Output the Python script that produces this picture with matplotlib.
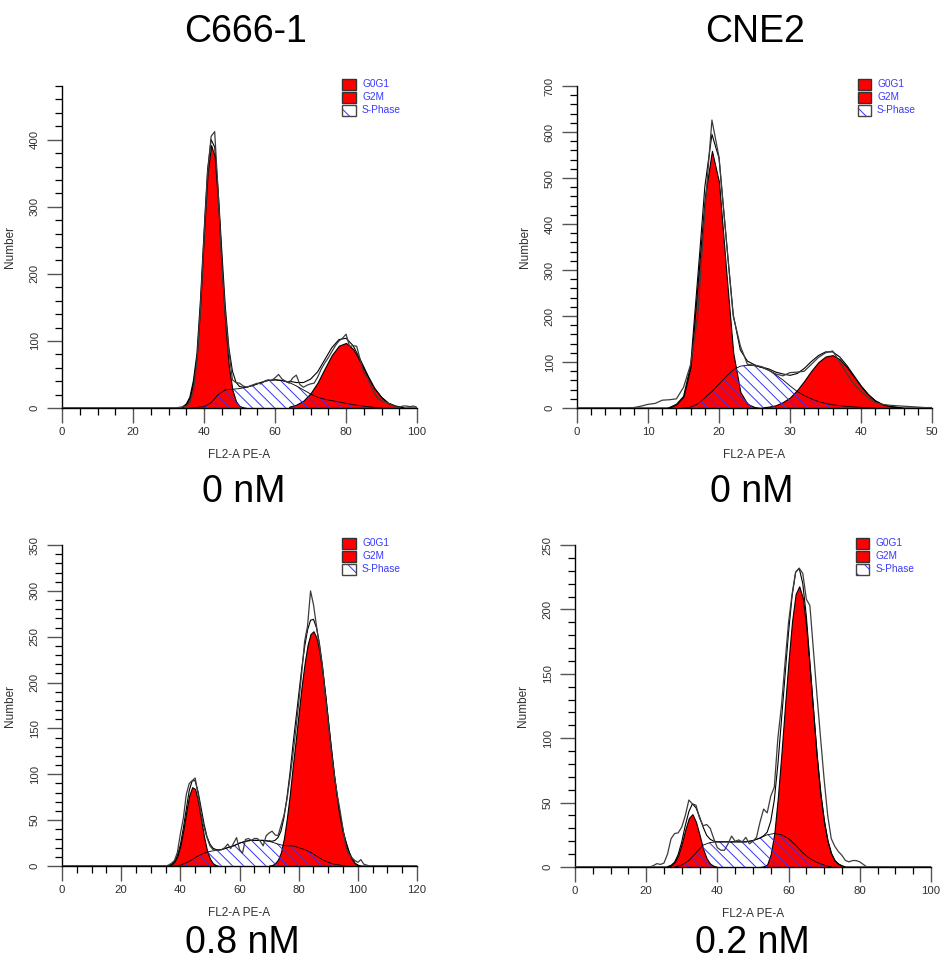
import numpy as np
import matplotlib.pyplot as plt
from matplotlib.patches import Rectangle
from matplotlib.ticker import MultipleLocator

plt.rcParams['font.family'] = ['Liberation Sans', 'DejaVu Sans']
plt.rcParams['hatch.linewidth'] = 0.7

RED = '#ff0000'
HATCH_BLUE = '#3333ff'
TEXT_BLUE = '#3a3aff'
HATCH = '\\\\\\'

# ---- C666-1, 0 nM : (first channel, channel step, counts) ----
c666_0_g0g1 = (34, 1, [2, 6, 16, 40, 80, 160, 262, 350, 392, 375, 303, 210, 124, 62, 27, 10, 3, 1, 0])
c666_0_g2m = (64, 2, [2, 5, 11, 22, 38, 59, 79, 93, 97, 88, 69, 48, 29, 16, 7, 3, 1])
c666_0_s = (36, 2, [0, 1, 2, 8, 20, 27, 28, 29, 31, 34, 38, 41, 42, 41, 38, 33, 27, 21,
                    16, 13, 11, 9, 7, 5, 3.5, 2, 1, 0])
c666_0_data = (30, 1, [0, 0, 0, 1, 2, 3, 8, 25, 70, 150, 255, 350, 405, 412, 320, 215, 140, 85,
                       42, 38, 37, 33, 31, 33, 35, 37, 36, 40, 42, 41, 45, 50, 43, 40, 37, 45,
                       49, 35, 31, 34, 36, 37, 46, 58, 67, 75, 84, 93, 100, 104, 110, 92, 93,
                       92, 72, 52, 46, 33, 22, 14, 11, 9, 7, 5, 2, 1, 3, 3, 2, 3, 1])

# ---- CNE2, 0 nM ----
cne2_0_g0g1 = (13, 1, [1, 8, 25, 90, 273, 459, 559, 491, 300, 120, 35, 9, 2, 0])
cne2_0_g2m = (26, 1, [1, 3, 6, 13, 23, 39, 59, 81, 100, 112, 115, 106, 89, 68, 47, 29, 16, 8,
                      4, 2, 0])
cne2_0_s = (15, 1, [0, 2, 9, 22, 36, 52, 68, 83, 91, 93, 92, 88, 82, 72, 61, 48, 36, 27, 20,
                    14, 10, 7, 5, 3.5, 2.5, 1.5, 1, 0])
cne2_0_data = (0, 1, [0, 0, 0, 0, 0, 0, 0, 0, 1, 4, 8, 10, 17, 18, 20, 45, 95, 200, 430, 626,
                      545, 370, 200, 135, 95, 93, 90, 82, 74, 70, 77, 78, 80, 95, 110, 120,
                      124, 100, 75, 52, 36, 22, 12, 8, 6, 5, 4, 3, 2, 1, 1])

# ---- C666-1, 0.8 nM ----
c666_08_g0g1 = (36, 1, [0.5, 1.7, 4.6, 11, 22, 39, 59, 77, 86, 84, 70, 51, 32, 17, 8, 3, 1, 0])
c666_08_g2m = (70, 1, [0.5, 1, 3, 7, 15, 30, 52, 78, 109, 137, 167, 196, 221, 241, 253, 256,
                       249, 234, 212, 185, 155, 126, 98, 74, 53, 37, 25, 15, 8, 3, 1, 0])
c666_08_s = (38, 2, [0, 1, 3.5, 7, 11, 14, 16, 17, 18, 20, 22, 25, 27, 28, 28, 28, 27, 25, 23,
                     22, 22, 20, 18, 15, 11, 7, 4, 2, 1, 0])
c666_08_data = (34, 1, [0, 0, 1, 3, 6, 15, 35, 52, 78, 90, 93, 96, 78, 57, 42, 31, 22, 18, 17,
                        17, 18, 20, 24, 19, 25, 31, 18, 14, 29, 30, 28, 30, 30, 27, 22, 33, 36,
                        38, 34, 33, 44, 55, 72, 95, 120, 148, 178, 210, 245, 262, 300, 285,
                        262, 240, 218, 185, 155, 125, 100, 78, 60, 40, 20, 13, 9, 6, 4, 7, 2,
                        1, 0, 0, 0])

# ---- CNE2, 0.2 nM ----
cne2_02_g0g1 = (26, 1, [0.3, 1.3, 3.8, 9, 18, 29, 38, 41, 35, 25, 14, 6.6, 2.5, 0.8, 0])
cne2_02_g2m = (52, 1, [0, 0.5, 2, 10, 26, 54, 88, 125, 160, 191, 212, 218, 209, 186, 153, 118,
                       84, 56, 35, 20, 10.5, 5, 2.4, 1, 0])
cne2_02_s = (28, 2, [0, 1.5, 5, 11, 17, 19, 19.5, 19.5, 19.5, 19.5, 19.5, 20.5, 22.5, 25, 26,
                     25, 22, 17, 11, 6.5, 3.5, 1.5, 0])
cne2_02_data = (20, 1, [0, 0, 1, 2.6, 2, 3, 10, 22, 26, 26.5, 31, 40, 52, 49, 48, 38, 32, 33, 30,
                        22, 15, 13, 13, 18, 24, 20, 21, 19.5, 23, 18, 20, 23, 35, 45, 42, 55, 62,
                        100, 125, 158, 190, 212, 229, 232, 228, 208, 203, 168, 133, 100, 68, 40,
                        22, 16, 12, 9, 5, 4, 5, 5, 4, 2, 0, 0])

cell_lines = ['C666-1', 'CNE2']
doses = ['0 nM', '0 nM', '0.8 nM', '0.2 nM']
legend_labels = ['G0G1', 'G2M', 'S-Phase']


def series(spec):
    first, step, vals = spec
    vals = np.asarray(vals, dtype=float)
    return first + step * np.arange(len(vals)), vals


def draw_panel(ax, g0g1, g2m, s_phase, data, xmax, ymax, xmaj, xmin, ymaj, ymin):
    gx, gy = series(g0g1)
    mx, my = series(g2m)
    sx, sy = series(s_phase)
    dx, dy = series(data)

    # S-phase: white body under the peaks, hatch laid over them
    ax.fill_between(sx, 0, sy, facecolor='white', edgecolor='none', zorder=1)
    for x, y in [(gx, gy), (mx, my)]:
        ax.fill_between(x, 0, y, facecolor=RED, edgecolor='black', linewidth=0.8, zorder=2)
    ax.fill_between(sx, 0, sy, facecolor='none', edgecolor=HATCH_BLUE, hatch=HATCH,
                    linewidth=0, zorder=3)
    ax.plot(sx, sy, color='black', linewidth=0.6, zorder=3)

    # model sum
    xf = np.arange(0, xmax + 0.001, 0.25)
    fit = sum(np.interp(xf, x, y, left=0, right=0)
              for x, y in [(gx, gy), (mx, my), (sx, sy)])
    ax.plot(xf, fit, color='black', linewidth=0.8, zorder=4)

    # raw histogram
    px = np.r_[0, dx, xmax]
    py = np.r_[0, dy, 0]
    ax.plot(px, py, color='#3c3c3c', linewidth=0.9, zorder=5)

    ax.set_xlim(0, xmax)
    ax.set_ylim(0, ymax)
    for side in ['top', 'right']:
        ax.spines[side].set_visible(False)
    for side in ['left', 'bottom']:
        ax.spines[side].set_linewidth(1.0)
    ax.xaxis.set_major_locator(MultipleLocator(xmaj))
    ax.xaxis.set_minor_locator(MultipleLocator(xmin))
    ax.yaxis.set_major_locator(MultipleLocator(ymaj))
    ax.yaxis.set_minor_locator(MultipleLocator(ymin))
    ax.tick_params(axis='both', which='major', length=11, width=1.0, color='#555555',
                   labelsize=8.2, labelcolor='#303030')
    ax.tick_params(axis='both', which='minor', length=5, width=0.9, color='black')
    ax.tick_params(axis='x', which='major', pad=3)
    ax.tick_params(axis='y', which='major', pad=5, labelrotation=90)
    for lab in ax.get_yticklabels():
        lab.set_va('center')

    ax.set_ylabel('Number', fontsize=8.5, color='#303030')
    ax.set_xlabel('FL2-A PE-A', fontsize=8.5, color='#303030')
    ax.yaxis.set_label_coords(-0.13, 0.5)
    ax.xaxis.set_label_coords(0.5, -0.128)

    # legend boxes
    for i, lab in enumerate(legend_labels):
        yc = 1.006 - 0.0405 * i
        if lab == 'S-Phase':
            ax.add_patch(Rectangle((0.79, yc - 0.017), 0.037, 0.034, transform=ax.transAxes,
                                   facecolor='white', edgecolor=HATCH_BLUE, hatch='\\\\',
                                   linewidth=0, clip_on=False, zorder=6))
            ax.add_patch(Rectangle((0.79, yc - 0.017), 0.037, 0.034, transform=ax.transAxes,
                                   facecolor='none', edgecolor='#444444', linewidth=1.0,
                                   clip_on=False, zorder=7))
        else:
            ax.add_patch(Rectangle((0.79, yc - 0.017), 0.037, 0.034, transform=ax.transAxes,
                                   facecolor=RED, edgecolor='#333333', linewidth=1.0,
                                   clip_on=False, zorder=6))
        ax.text(0.845, yc, lab, transform=ax.transAxes, fontsize=7.3, color=TEXT_BLUE,
                ha='left', va='center')


fig = plt.figure(figsize=(9.41, 9.63), dpi=100)
ax1 = fig.add_axes([0.0659, 0.5763, 0.3773, 0.3344])
ax2 = fig.add_axes([0.6132, 0.5763, 0.3773, 0.3344])
ax3 = fig.add_axes([0.0659, 0.1007, 0.3773, 0.3333])
ax4 = fig.add_axes([0.6110, 0.0997, 0.3783, 0.3343])

draw_panel(ax1, c666_0_g0g1, c666_0_g2m, c666_0_s, c666_0_data, 100, 480, 20, 5, 100, 20)
draw_panel(ax2, cne2_0_g0g1, cne2_0_g2m, cne2_0_s, cne2_0_data, 50, 700, 10, 2, 100, 20)
draw_panel(ax3, c666_08_g0g1, c666_08_g2m, c666_08_s, c666_08_data, 120, 350, 20, 5, 50, 10)
draw_panel(ax4, cne2_02_g0g1, cne2_02_g2m, cne2_02_s, cne2_02_data, 100, 250, 20, 5, 50, 10)

W, H = 941, 963
big = dict(fontsize=27, ha='center', va='baseline', color='black')
fig.text(246 / W, 1 - 42 / H, cell_lines[0], **big)
fig.text(755 / W, 1 - 42 / H, cell_lines[1], **big)
fig.text(244 / W, 1 - 502 / H, doses[0], **big)
fig.text(752 / W, 1 - 502 / H, doses[1], **big)
fig.text(242 / W, 1 - 953 / H, doses[2], **big)
fig.text(752 / W, 1 - 953 / H, doses[3], **big)

fig.savefig('out.png', dpi=100)
